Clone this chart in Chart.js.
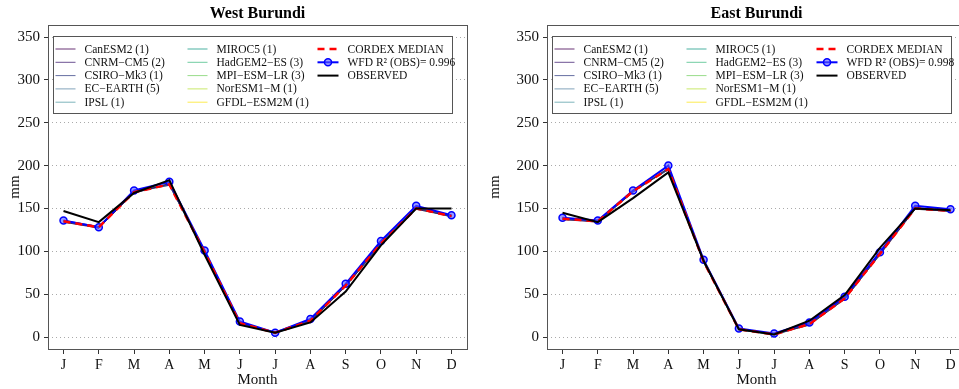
<!DOCTYPE html>
<html>
<head>
<meta charset="utf-8">
<script src="https://cdn.jsdelivr.net/npm/chart.js@4.4.1/dist/chart.umd.min.js"></script>
<style>
  html, body { margin: 0; padding: 0; background: #fff; overflow: hidden; }
  #wrap { position: relative; width: 959px; height: 389px; overflow: hidden; }
  canvas { position: absolute; top: 0; }
  #west { left: 0; }
  #east { left: 480px; }
</style>
</head>
<body>
<div id="wrap">
  <canvas id="west" width="480" height="389"></canvas>
  <canvas id="east" width="500" height="389"></canvas>
</div>
<script>
// ---------- Data ----------
const MONTHS    = ["J", "F", "M", "A", "M", "J", "J", "A", "S", "O", "N", "D"];
const MONTH_POS = [1, 2, 3, 4, 5, 6, 7, 8, 9, 10, 11, 12];
const Y_TICKS   = [0, 50, 100, 150, 200, 250, 300, 350];

const MODEL_NAMES = [
  "CanESM2 (1)", "CNRM\u2212CM5 (2)", "CSIRO\u2212Mk3 (1)", "EC\u2212EARTH (5)", "IPSL (1)",
  "MIROC5 (1)", "HadGEM2\u2212ES (3)", "MPI\u2212ESM\u2212LR (3)", "NorESM1\u2212M (1)", "GFDL\u2212ESM2M (1)"
];

// West Burundi
const westModels = [
  [134, 127, 168, 179,  98, 17, 5, 18, 59, 108, 149, 141],
  [136, 129, 170, 177, 100, 16, 5, 19, 61, 110, 151, 142],
  [135, 128, 169, 178,  99, 15, 6, 20, 60, 109, 150, 140],
  [134, 128, 168, 178,  98, 16, 5, 19, 59, 108, 150, 141],
  [136, 127, 170, 179, 100, 17, 5, 18, 61, 110, 151, 141],
  [135, 129, 169, 177,  99, 16, 4, 19, 60, 109, 150, 142],
  [134, 128, 170, 178,  98, 15, 5, 20, 61, 110, 149, 141],
  [136, 127, 168, 179, 100, 16, 6, 19, 59, 108, 151, 140],
  [135, 128, 169, 178,  99, 17, 5, 18, 60, 109, 150, 141],
  [135, 128, 169, 178,  99, 16, 5, 19, 60, 109, 150, 141]
];
const westMedian = [135, 128, 169, 178,  99, 16, 5, 19, 60, 109, 150, 141];
const westWfd    = [136, 128, 171, 181, 101, 18, 5, 21, 62, 112, 153, 142];
const westObs    = [147, 134, 168, 183,  96, 14, 5, 17, 53, 107, 150, 150];
const westR2     = "0.996";

// East Burundi
const eastModels = [
  [137, 134, 169, 197, 87, 10, 3, 14, 44,  96, 149, 147],
  [139, 136, 171, 195, 89,  9, 3, 15, 46,  98, 151, 148],
  [138, 135, 170, 196, 88,  8, 4, 16, 45,  97, 150, 146],
  [137, 135, 169, 196, 87,  9, 3, 15, 44,  96, 150, 147],
  [139, 134, 171, 197, 89, 10, 3, 14, 46,  98, 151, 147],
  [138, 136, 170, 195, 88,  9, 2, 15, 45,  97, 150, 148],
  [137, 135, 171, 196, 87,  8, 3, 16, 46,  98, 149, 147],
  [139, 134, 169, 197, 89,  9, 4, 15, 44,  96, 151, 146],
  [138, 135, 170, 196, 88, 10, 3, 14, 45,  97, 150, 147],
  [138, 135, 170, 196, 88,  9, 3, 15, 45,  97, 150, 147]
];
const eastMedian = [138, 135, 170, 196, 88,  9, 3, 15, 45,  97, 150, 147];
const eastWfd    = [139, 136, 171, 200, 90, 10, 4, 17, 47,  99, 153, 149];
const eastObs    = [145, 134, 162, 192, 89,  9, 3, 19, 49, 104, 150, 148];
const eastR2     = "0.998";

// ---------- Styles ----------
const SERIF = "'Liberation Serif', 'DejaVu Serif', serif";
const MODEL_COLORS = [
  "rgba(68,1,84,0.8)", "rgba(72,40,120,0.8)", "rgba(62,74,137,0.8)", "rgba(49,104,142,0.6)",
  "rgba(38,130,142,0.6)", "rgba(31,158,137,0.8)", "rgba(53,183,121,0.7)", "rgba(109,205,89,0.7)",
  "rgba(180,222,44,0.7)", "rgba(253,231,37,0.8)"
];

const toXY = (arr) => arr.map((v, i) => ({ x: MONTH_POS[i], y: v }));

// ---------- Plugin: frame, legend, title ----------
const panelDecor = {
  id: "panelDecor",
  beforeDatasetsDraw(chart) {
    const { ctx, chartArea: a } = chart;
    ctx.save();
    ctx.strokeStyle = "#555";
    ctx.lineWidth = 1;
    ctx.strokeRect(Math.round(a.left) + 0.5, Math.round(a.top) + 0.5,
                   Math.round(a.right - a.left), Math.round(a.bottom - a.top));
    ctx.restore();
  },
  afterDatasetsDraw(chart) {
    const { ctx, chartArea: a } = chart;
    const bx = Math.round(a.left) + 5.5, by = Math.round(a.top) + 11.5;
    ctx.save();
    ctx.fillStyle = "#fff";
    ctx.fillRect(bx, by, 399, 77);
    ctx.strokeStyle = "#555";
    ctx.lineWidth = 1;
    ctx.strokeRect(bx, by, 399, 77);

    const cols = [[2, 22, 31], [134, 154, 163], [264, 285, 294]];
    ctx.font = "11.5px " + SERIF;
    ctx.textBaseline = "middle";
    chart.data.datasets.forEach((ds, i) => {
      const col = i < 5 ? 0 : (i < 10 ? 1 : 2);
      const row = i < 10 ? i % 5 : i - 10;
      const y = by + 12.5 + row * 13.3;
      const [x0, x1, xt] = cols[col];
      ctx.strokeStyle = ds.borderColor;
      ctx.lineWidth = ds.borderWidth;
      ctx.setLineDash(ds.borderDash || []);
      ctx.beginPath();
      ctx.moveTo(bx + x0, y);
      ctx.lineTo(bx + x1, y);
      ctx.stroke();
      ctx.setLineDash([]);
      if (ds.pointRadius > 0) {
        ctx.beginPath();
        ctx.arc(bx + (x0 + x1) / 2, y, ds.pointRadius, 0, Math.PI * 2);
        ctx.fillStyle = ds.pointBackgroundColor;
        ctx.fill();
        ctx.lineWidth = ds.pointBorderWidth;
        ctx.strokeStyle = ds.pointBorderColor;
        ctx.stroke();
      }
      ctx.fillStyle = "#111";
      ctx.fillText(ds.label, bx + xt, y + 0.5);
    });
    ctx.restore();
  },
  afterDraw(chart, args, opts) {
    const { ctx, chartArea: a } = chart;
    ctx.save();
    ctx.font = "bold 16px " + SERIF;
    ctx.fillStyle = "#000";
    ctx.textAlign = "center";
    ctx.textBaseline = "middle";
    ctx.fillText(opts.text, (a.left + a.right) / 2, 14);
    ctx.restore();
  }
};

// ---------- Chart builder ----------
function buildPanel(canvasId, title, r2, models, median, wfd, obs, yWidth, padRight) {
  const datasets = models.map((m, k) => ({
    label: MODEL_NAMES[k],
    data: toXY(m),
    borderColor: MODEL_COLORS[k],
    borderWidth: 1,
    pointRadius: 0,
    order: 3
  }));
  datasets.push({
    label: "CORDEX MEDIAN",
    data: toXY(median),
    borderColor: "#ff0000",
    borderWidth: 2.5,
    borderDash: [7, 5],
    pointRadius: 0,
    order: 1
  });
  datasets.push({
    label: "WFD R\u00B2 (OBS)= " + r2,
    data: toXY(wfd),
    borderColor: "#0000ff",
    borderWidth: 2,
    pointRadius: 3.5,
    pointBackgroundColor: "rgba(90,90,255,0.6)",
    pointBorderColor: "#0000ff",
    pointBorderWidth: 1.5,
    order: 2
  });
  datasets.push({
    label: "OBSERVED",
    data: toXY(obs),
    borderColor: "#000000",
    borderWidth: 2,
    pointRadius: 0,
    order: 0
  });

  return new Chart(document.getElementById(canvasId), {
    type: "line",
    data: { datasets },
    plugins: [panelDecor],
    options: {
      responsive: false,
      animation: false,
      devicePixelRatio: 1,
      layout: { padding: { top: 25, right: padRight, left: 0, bottom: 0 } },
      elements: { line: { tension: 0 } },
      plugins: {
        legend: { display: false },
        tooltip: { enabled: false },
        panelDecor: { text: title }
      },
      scales: {
        x: {
          type: "linear",
          min: 0.56,
          max: 12.44,
          afterBuildTicks: (s) => { s.ticks = MONTH_POS.map(v => ({ value: v })); },
          afterFit: (s) => { s.height = 40; },
          border: { display: false },
          grid: { drawOnChartArea: false, drawTicks: true, tickLength: 5, tickColor: "#333", tickWidth: 1 },
          ticks: {
            autoSkip: false, maxRotation: 0, padding: 3,
            color: "#111", font: { family: SERIF, size: 14 },
            callback: (v) => MONTHS[v - 1]
          },
          title: {
            display: true, text: "Month", color: "#111",
            font: { family: SERIF, size: 15 }, padding: { top: 0, bottom: 0 }
          }
        },
        y: {
          min: -14,
          max: 364,
          afterBuildTicks: (s) => { s.ticks = Y_TICKS.map(v => ({ value: v })); },
          afterFit: (s) => { s.width = yWidth; },
          border: { display: false, dash: [1, 3] },
          grid: {
            color: "#aaa", lineWidth: 1,
            drawTicks: true, tickLength: 4, tickColor: "#333", tickWidth: 1, tickBorderDash: []
          },
          ticks: { padding: 4, color: "#111", font: { family: SERIF, size: 15 } },
          title: {
            display: true, text: "mm", color: "#111",
            font: { family: SERIF, size: 15 }, padding: { top: 6, bottom: 0 }
          }
        }
      }
    }
  });
}

buildPanel("west", "West Burundi", westR2, westModels, westMedian, westWfd, westObs, 48, 13);
buildPanel("east", "East Burundi", eastR2, eastModels, eastMedian, eastWfd, eastObs, 67, 14);
</script>
</body>
</html>
